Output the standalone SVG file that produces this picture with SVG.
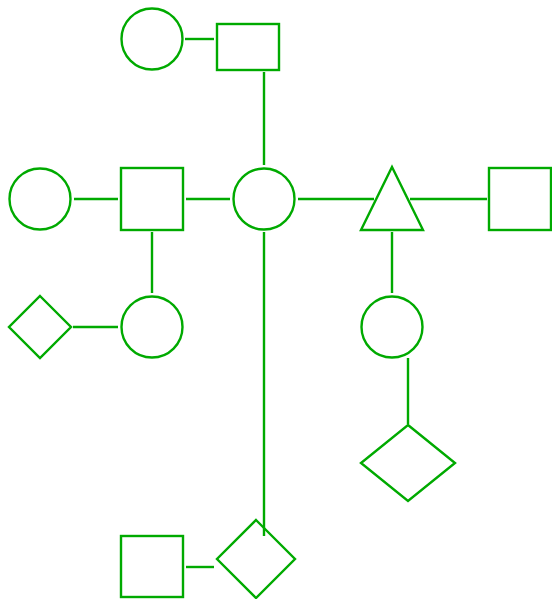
<svg xmlns="http://www.w3.org/2000/svg" width="552" height="599" viewBox="0 0 552 599">
<style>
.s{fill:none;stroke:#00aa00;stroke-width:2.4}
.e{fill:none;stroke:#00aa00;stroke-width:2.4}
</style>
<rect width="552" height="599" fill="#fff"/>
<g id="connectors">
<line class="e" x1="185" y1="39" x2="214" y2="39"/>
<line class="e" x1="264" y1="72" x2="264" y2="165"/>
<line class="e" x1="74" y1="199" x2="118" y2="199"/>
<line class="e" x1="186" y1="199" x2="230" y2="199"/>
<line class="e" x1="298" y1="199" x2="374" y2="199"/>
<line class="e" x1="410" y1="199" x2="487" y2="199"/>
<line class="e" x1="152" y1="232" x2="152" y2="293"/>
<line class="e" x1="392" y1="232" x2="392" y2="293"/>
<line class="e" x1="73" y1="327" x2="118" y2="327"/>
<line class="e" x1="408" y1="358" x2="408" y2="424"/>
<line class="e" x1="264" y1="232" x2="264" y2="536"/>
<line class="e" x1="186" y1="567" x2="214" y2="567"/>
</g>
<g id="n1"><circle class="s" cx="152" cy="39" r="30.5"/></g>
<g id="n2"><rect class="s" x="217" y="24" width="62" height="46"/></g>
<g id="n3"><circle class="s" cx="40" cy="199" r="30.5"/></g>
<g id="n4"><rect class="s" x="121" y="168" width="62" height="62"/></g>
<g id="n5"><circle class="s" cx="264" cy="199" r="30.5"/></g>
<g id="n6"><polygon class="s" points="392,167 423,230 361,230"/></g>
<g id="n7"><rect class="s" x="489" y="168" width="62" height="62"/></g>
<g id="n8"><polygon class="s" points="40,296 71,327 40,358 9,327"/></g>
<g id="n9"><circle class="s" cx="152" cy="327" r="30.5"/></g>
<g id="n10"><circle class="s" cx="392" cy="327" r="30.5"/></g>
<g id="n11"><polygon class="s" points="408,425 455,463 408,501 361,463"/></g>
<g id="n12"><rect class="s" x="121" y="536" width="62" height="61"/></g>
<g id="n13"><polygon class="s" points="256,520 295,559 256,598 217,559"/></g>
</svg>
